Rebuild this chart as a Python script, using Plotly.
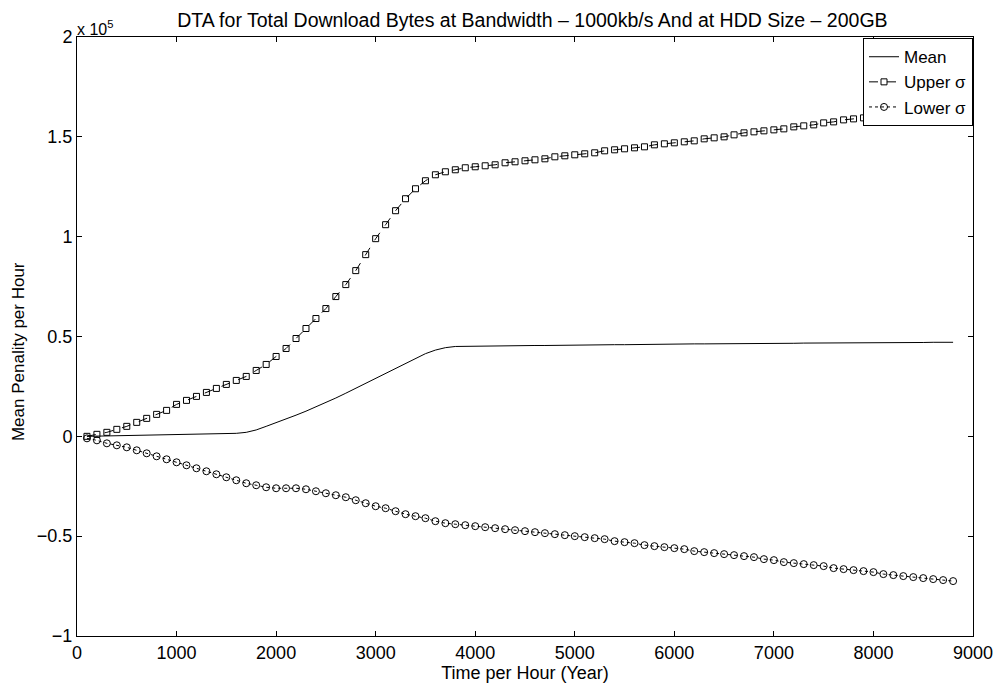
import plotly.graph_objects as go

# Time axis (hours), one sample every 100 h
time_hours = list(range(100, 8900, 100))

# Values in units of 1e5
mean_vals = [
    0.000, 0.001, 0.002, 0.003, 0.004, 0.005, 0.006, 0.007, 0.008, 0.009,
    0.010, 0.011, 0.012, 0.013, 0.014, 0.015, 0.020, 0.032, 0.050, 0.068,
    0.087, 0.106, 0.126, 0.147, 0.169, 0.192, 0.216, 0.241, 0.266, 0.291,
    0.316, 0.341, 0.366, 0.391, 0.414, 0.432, 0.444, 0.450, 0.451, 0.452,
    0.452, 0.453, 0.453, 0.454, 0.454, 0.455, 0.455, 0.456, 0.456, 0.457,
    0.457, 0.458, 0.458, 0.459, 0.459, 0.460, 0.460, 0.461, 0.461, 0.462,
    0.462, 0.463, 0.463, 0.463, 0.464, 0.464, 0.465, 0.465, 0.465, 0.466,
    0.466, 0.466, 0.467, 0.467, 0.467, 0.468, 0.468, 0.468, 0.469, 0.469,
    0.469, 0.470, 0.470, 0.470, 0.470, 0.471, 0.471, 0.471,
]

upper_vals = [
    0.000, 0.010, 0.020, 0.035, 0.050, 0.070, 0.090, 0.110, 0.130, 0.160,
    0.180, 0.200, 0.220, 0.240, 0.260, 0.280, 0.300, 0.330, 0.360, 0.400,
    0.440, 0.490, 0.540, 0.590, 0.640, 0.700, 0.760, 0.830, 0.910, 0.990,
    1.060, 1.130, 1.190, 1.240, 1.280, 1.310, 1.325, 1.335, 1.345, 1.350,
    1.355, 1.360, 1.370, 1.375, 1.380, 1.385, 1.390, 1.400, 1.405, 1.410,
    1.415, 1.420, 1.430, 1.435, 1.440, 1.445, 1.450, 1.460, 1.465, 1.470,
    1.475, 1.480, 1.490, 1.495, 1.500, 1.510, 1.520, 1.525, 1.530, 1.535,
    1.540, 1.550, 1.555, 1.560, 1.570, 1.575, 1.585, 1.590, 1.595, 1.600,
    1.605, 1.610, 1.615, 1.620, 1.625, 1.630, 1.635, 1.640,
]

lower_vals = [
    -0.010, -0.020, -0.035, -0.045, -0.055, -0.070, -0.085, -0.100, -0.115, -0.130,
    -0.145, -0.160, -0.175, -0.190, -0.205, -0.220, -0.235, -0.245, -0.255, -0.260,
    -0.260, -0.260, -0.265, -0.275, -0.285, -0.295, -0.305, -0.320, -0.335, -0.350,
    -0.360, -0.375, -0.390, -0.400, -0.410, -0.425, -0.435, -0.440, -0.445, -0.450,
    -0.455, -0.460, -0.465, -0.470, -0.475, -0.480, -0.485, -0.490, -0.495, -0.500,
    -0.505, -0.510, -0.515, -0.525, -0.530, -0.535, -0.545, -0.550, -0.555, -0.560,
    -0.565, -0.575, -0.580, -0.585, -0.590, -0.595, -0.600, -0.605, -0.615, -0.620,
    -0.630, -0.635, -0.640, -0.645, -0.650, -0.660, -0.665, -0.670, -0.675, -0.680,
    -0.690, -0.695, -0.700, -0.705, -0.710, -0.715, -0.720, -0.725,
]

x_ticks = [0, 1000, 2000, 3000, 4000, 5000, 6000, 7000, 8000, 9000]
y_ticks = [-1, -0.5, 0, 0.5, 1, 1.5, 2]
y_tick_text = ["\u22121", "\u22120.5", "0", "0.5", "1", "1.5", "2"]

FONT = "Liberation Sans, Arial, Helvetica, sans-serif"

fig = go.Figure()
fig.add_trace(go.Scatter(
    x=time_hours, y=mean_vals, mode="lines", name="Mean",
    line=dict(color="black", width=1),
))
fig.add_trace(go.Scatter(
    x=time_hours, y=upper_vals, mode="lines+markers", name="Upper \u03c3",
    line=dict(color="black", width=1, dash="dash"),
    marker=dict(symbol="square-open", size=6, color="black", line=dict(width=1)),
))
fig.add_trace(go.Scatter(
    x=time_hours, y=lower_vals, mode="lines+markers", name="Lower \u03c3",
    line=dict(color="black", width=1, dash="dot"),
    marker=dict(symbol="circle-open", size=7, color="black", line=dict(width=1)),
))

axis_common = dict(
    showgrid=False, zeroline=False, showline=True, linecolor="black", linewidth=1,
    mirror="allticks", ticks="inside", ticklen=5, tickcolor="black",
    tickfont=dict(family=FONT, size=18, color="black"),
)

fig.update_layout(
    width=996, height=679,
    margin=dict(l=69, r=31, t=29, b=51),
    paper_bgcolor="white", plot_bgcolor="white",
    font=dict(family=FONT, color="black"),
    title=dict(
        text="DTA for Total Download Bytes at Bandwidth \u2013 1000kb/s And at HDD Size \u2013 200GB",
        x=0.5265, xanchor="center", y=0.992, yanchor="top",
        font=dict(family=FONT, size=19.5, color="black"),
    ),
    xaxis=dict(
        range=[0, 9000], tickvals=x_ticks,
        title=dict(text="Time per Hour (Year)", font=dict(family=FONT, size=18), standoff=0),
        **axis_common,
    ),
    yaxis=dict(
        range=[-1, 2], tickvals=y_ticks, ticktext=y_tick_text,
        **axis_common,
    ),
    legend=dict(
        x=1, xanchor="right", y=0.998, yanchor="top",
        bgcolor="white", bordercolor="black", borderwidth=1,
        font=dict(family=FONT, size=17, color="black"),
        tracegroupgap=0, itemwidth=30,
    ),
    showlegend=True,
    annotations=[
        dict(
            text="x 10<sup>5</sup>", xref="paper", yref="paper", x=0, y=1,
            xanchor="left", yanchor="bottom", showarrow=False,
            font=dict(family=FONT, size=16, color="black"), xshift=-2, yshift=-3,
        ),
        dict(
            text="Mean Penality per Hour", xref="paper", yref="paper", x=0, y=0.474,
            xanchor="center", yanchor="middle", showarrow=False, textangle=-90,
            font=dict(family=FONT, size=17, color="black"), xshift=-59,
        ),
    ],
)

fig.write_html("out.html")
